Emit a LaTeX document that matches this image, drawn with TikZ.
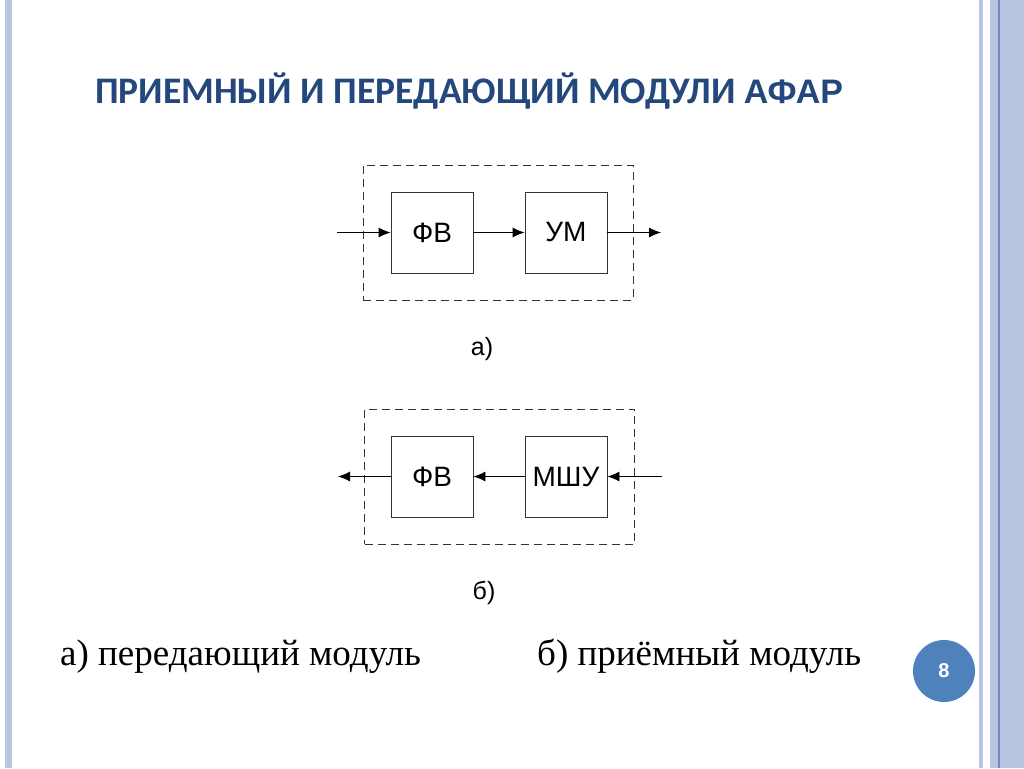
\documentclass[tikz,border=0pt]{standalone}
\usepackage{fontspec}
\setmainfont{Liberation Serif}
\setsansfont{Liberation Sans}
\newfontfamily\titlefont{Carlito}
\usetikzlibrary{arrows.meta,positioning}
\definecolor{titleblue}{HTML}{24487D}
\definecolor{stripe}{HTML}{B8C6DF}
\definecolor{stripedark}{HTML}{7189C5}
\definecolor{badge}{HTML}{4F81BD}
\begin{document}
\begin{tikzpicture}[
        x=1pt, y=-1pt,
        block/.style={draw=black!80, line width=0.9pt, minimum width=82pt, minimum height=81pt, inner sep=0pt, font=\sffamily\fontsize{28}{28}\selectfont},
        frame/.style={draw=black!80, line width=0.9pt, dash pattern=on 8pt off 5pt, minimum width=270pt, minimum height=135pt, inner sep=0pt},
        sig/.style={-{Latex[length=12pt,width=10pt]}, line width=0.9pt},
        caption/.style={anchor=base, font=\sffamily\fontsize{25}{25}\selectfont},
    ]
        \useasboundingbox (0,0) rectangle (1024,768);
        \fill[white] (0,0) rectangle (1024,768);

        % Slide borders
        \fill[stripe] (5,0) rectangle (12,768);
        \fill[stripe] (979,0) rectangle (983,768);
        \fill[stripe] (990,0) rectangle (1024,768);
        \fill[stripedark] (998,0) rectangle (999.5,768);

        % Title
        \node[anchor=base west, inner sep=0pt, text=titleblue] (title) at (95,103)
            {\titlefont\bfseries\fontsize{37.5}{37.5}\selectfont ПРИЕМНЫЙ И ПЕРЕДАЮЩИЙ МОДУЛИ {\sffamily\fontsize{34}{34}\selectfont АФАР}};

        % Transmit module (a)
        \node[frame] (framea) at (498,232.5) {};
        \node[block] (fva) at (432,232.5) {ФВ};
        \node[block] (uma) at (566,232.5) {УМ};
        \coordinate (ina) at (337,232.5);
        \coordinate (outa) at (661,232.5);
        \draw[sig] (ina) -- (fva);
        \draw[sig] (fva) -- (uma);
        \draw[sig] (uma) -- (outa);
        \node[caption] (capa) at (482,355) {а)};

        % Receive module (b)
        \node[frame] (frameb) at (499.5,476.5) {};
        \node[block] (fvb) at (432,476.5) {ФВ};
        \node[block] (mshu) at (566,476.5) {МШУ};
        \coordinate (inb) at (662,476.5);
        \coordinate (outb) at (338,476.5);
        \draw[sig] (inb) -- (mshu);
        \draw[sig] (mshu) -- (fvb);
        \draw[sig] (fvb) -- (outb);
        \node[caption] (capb) at (484,599) {б)};

        % Captions
        \node[anchor=base west, inner sep=0pt] (texta) at (60,665)
            {\fontsize{37}{37}\selectfont а) передающий модуль};
        \node[anchor=base west, inner sep=0pt] (textb) at (537,665)
            {\fontsize{37}{37}\selectfont б) приёмный модуль};

        % Page number
        \node[circle, fill=badge, minimum size=62pt, inner sep=0pt, text=white, font=\sffamily\bfseries\fontsize{20}{20}\selectfont] (page) at (944,671) {8};
    \end{tikzpicture}
\end{document}
